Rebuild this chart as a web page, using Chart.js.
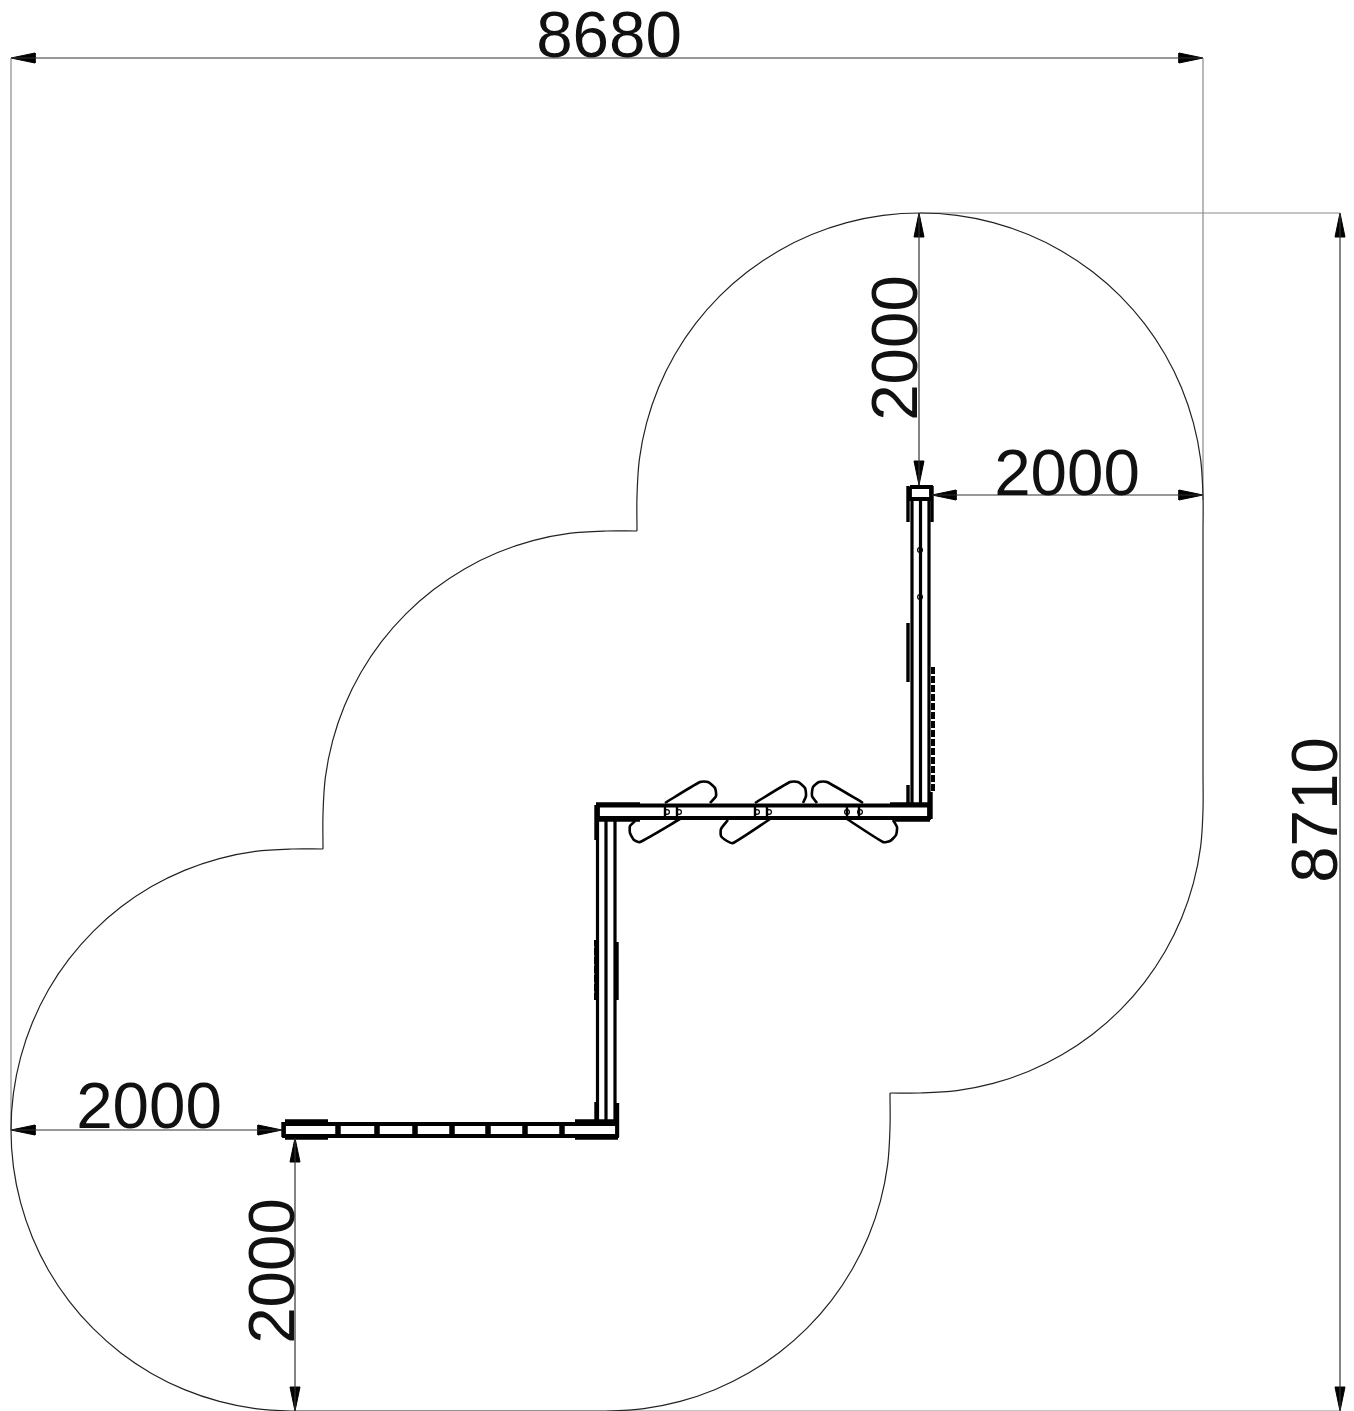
<!DOCTYPE html>
<html><head><meta charset="utf-8">
<style>html,body{margin:0;padding:0;background:#fff}canvas{display:block}</style>
<script src="https://cdn.jsdelivr.net/npm/chart.js@4"></script></head>
<body><canvas id="c" width="1354" height="1411"></canvas>
<script>
// Drawing, in drawing units
const arcUpper=[[637,531],[637,496],[639.4,459.1],[646.6,422.8],[658.5,387.7],[674.9,354.5],[695.5,323.7],[719.9,295.9],[747.7,271.5],[778.5,250.9],[811.7,234.5],[846.8,222.6],[883.1,215.4],[920,213],[956.9,215.4],[993.2,222.6],[1028.3,234.5],[1061.5,250.9],[1092.3,271.5],[1120.1,295.9],[1144.5,323.7],[1165.1,354.5],[1181.5,387.7],[1193.4,422.8],[1200.6,459.1],[1203,496],[1203,533]];
const arcLowerRight=[[1203,773],[1203,810],[1200.6,846.9],[1193.4,883.2],[1181.5,918.3],[1165.1,951.5],[1144.5,982.3],[1120.1,1010.1],[1092.3,1034.5],[1061.5,1055.1],[1028.3,1071.5],[993.2,1083.4],[956.9,1090.6],[920,1093],[890,1093]];
const arcBottom=[[890,1093],[890,1128],[887.6,1164.9],[880.4,1201.2],[868.5,1236.3],[852.1,1269.5],[831.5,1300.3],[807.1,1328.1],[779.3,1352.5],[748.5,1373.1],[715.3,1389.5],[680.2,1401.4],[643.9,1408.6],[607,1411],[570,1411]];
const arcLeft=[[329,1411],[292,1411],[255.3,1408.6],[219.3,1401.4],[184.5,1389.6],[151.5,1373.4],[120.9,1352.9],[93.3,1328.7],[69.1,1301.1],[48.6,1270.5],[32.4,1237.5],[20.6,1202.7],[13.4,1166.7],[11,1130],[13.4,1093.3],[20.6,1057.3],[32.4,1022.5],[48.6,989.5],[69.1,958.9],[93.3,931.3],[120.9,907.1],[151.5,886.6],[184.5,870.4],[219.3,858.6],[255.3,851.4],[292,849],[323,849]];
const arcMiddle=[[323,849],[323,814],[325.4,777.1],[332.6,740.8],[344.5,705.7],[360.9,672.5],[381.5,641.7],[405.9,613.9],[433.7,589.5],[464.5,568.9],[497.7,552.5],[532.8,540.6],[569.1,533.4],[606,531],[637,531]];
const outlineStraights=[[[1203,533],[1203,773]],[[570,1411],[329,1411]]];
const dimensionLines=[
 [[11,58],[1203,58]],[[1340,213],[1340,1411]],[[919,213],[919,485]],
 [[932,495],[1203,495]],[[11,1130],[282,1130]],[[295,1138],[295,1411]]];
const extensionLines=[[[11,58],[11,1130]],[[1203,58],[1203,500]],[[920,213],[1340,213]],[[607,1411],[1340,1411]]];
const arrowHeads=[
 [[11,58],[35,53],[35,63]],[[1203,58],[1179,53],[1179,63]],
 [[1340,213],[1335,237],[1345,237]],[[1340,1411],[1335,1387],[1345,1387]],
 [[919,213],[914,237],[924,237]],[[919,485],[914,461],[924,461]],
 [[932,495],[956,490],[956,500]],[[1203,495],[1179,490],[1179,500]],
 [[11,1130],[35,1125],[35,1135]],[[282,1130],[258,1125],[258,1135]],
 [[295,1138],[290,1162],[300,1162]],[[295,1411],[290,1387],[300,1387]]];
const frames=[
 [[910,487],[931,487],[931,499],[910,499],[910,487]],
 [[598,805.5],[929,805.5],[929,818],[598,818],[598,805.5]],
 [[284,1124],[617,1124],[617,1136],[284,1136],[284,1124]]];
const posts=[
 [[912,499],[912,805]],[[920.5,499],[920.5,805]],[[929,499],[929,805]],
 [[597.5,818],[597.5,1124]],[[606,818],[606,1124]],[[615,818],[615,1124]]];
const brackets=[
 [[665,805],[665,818]],[[677,805],[677,818]],[[755,805],[755,818]],[[767,805],[767,818]],
 [[847,805],[847,818]],[[859,805],[859,818]]];
const heavyAccents=[
 [[908,486],[908,522]],[[932,486],[932,522]],[[908,623],[908,682]],[[908,785],[908,805]],
 [[931,792],[931,819]],[[596,805],[596,840]],[[596,940],[596,1000]],[[617,942],[617,1000]],
 [[596,1102],[596,1124]],[[617.5,1103],[617.5,1137]],[[596,804],[640,804]],[[890,804],[930,804]],
 [[596,820],[640,820]],[[895,820],[930,820]],[[285,1121],[328,1121]],[[285,1138],[328,1138]],
 [[575,1121],[618,1121]],[[575,1138],[618,1138]],[[283,1122],[283,1137]]];
const roughAccents=[[[933,667],[933,792]],[[596,1000],[596,940]]];
const beamStuds=[338,377,415,452,488,525,562];
const seats=[
 [[665,803],[700,782],[708,782],[715,788],[716,796],[710,803]],
 [[680,819],[640,842],[634,840],[630,833],[630,826],[635,821]],
 [[755,803],[790,782],[798,782],[805,788],[806,796],[803,803]],
 [[770,819],[733,843],[727,841],[721,836],[721,829],[728,820]],
 [[863,803],[827,782],[819,782],[813,787],[812,796],[817,803]],
 [[847,819],[883,842],[890,841],[896,835],[897,827],[893,820]]];
const bolts=[[667,812],[679,812],[757,812],[769,812],[847,812],[860,812],[920,550],[920,597]];
const dimensionLabels=[
 {text:'8680',x:609,y:39,rot:0},{text:'8710',x:1319,y:810,rot:-90},
 {text:'2000',x:899,y:348,rot:-90},{text:'2000',x:1067,y:477,rot:0},
 {text:'2000',x:149,y:1110,rot:0},{text:'2000',x:276,y:1271,rot:-90}];

const pts=a=>a.map(([x,y])=>({x,y}));
const ds=[];
const add=(a,o)=>ds.push(Object.assign({data:pts(a),showLine:true,pointRadius:0,borderColor:'#111',borderWidth:1.2,tension:0},o));
[arcUpper,arcLowerRight,arcBottom,arcLeft,arcMiddle].forEach(a=>add(a,{tension:.34,borderColor:'#222',borderWidth:1.2}));
outlineStraights.forEach(a=>add(a,{borderColor:'#222',borderWidth:1.2}));
extensionLines.forEach(a=>add(a,{borderColor:'#8a8a8a',borderWidth:1.2}));
dimensionLines.forEach(a=>add(a,{borderColor:'#333',borderWidth:1.2}));
arrowHeads.forEach(a=>add(a.concat([a[0]]),{borderColor:'#000',borderWidth:1,backgroundColor:'#000',fill:'shape'}));
posts.forEach(a=>add(a,{borderColor:'#000',borderWidth:3.2}));
frames.forEach(a=>add(a,{borderColor:'#000',borderWidth:3.8}));
brackets.forEach(a=>add(a,{borderColor:'#000',borderWidth:2.4}));
heavyAccents.forEach(a=>add(a,{borderColor:'#000',borderWidth:3.4}));
roughAccents.forEach(a=>add(a,{borderColor:'#000',borderWidth:4,borderDash:[7,2]}));
beamStuds.forEach(x=>add([[x,1123],[x,1137]],{borderColor:'#000',borderWidth:5.5}));
seats.forEach(a=>add(a,{borderColor:'#000',borderWidth:2.6,tension:.2}));
ds.push({data:pts(bolts),showLine:false,pointRadius:2.4,pointBackgroundColor:'#fff',pointBorderColor:'#000',pointBorderWidth:1.2});

const labelPlugin={id:'labels',afterDatasetsDraw(ch){
 const {ctx,scales:{x,y}}=ch;
 dimensionLabels.forEach(l=>{ctx.save();
  ctx.translate(x.getPixelForValue(l.x),y.getPixelForValue(l.y));
  ctx.rotate(l.rot*Math.PI/180);
  ctx.font='65.5px "Liberation Sans"';ctx.fillStyle='#111';ctx.textAlign='center';ctx.textBaseline='middle';
  ctx.fillText(l.text,0,0);ctx.restore();});
}};
new Chart(document.getElementById('c'),{type:'scatter',data:{datasets:ds},plugins:[labelPlugin],options:{
 responsive:false,animation:false,layout:{padding:0,autoPadding:false},
 plugins:{legend:{display:false},tooltip:{enabled:false}},events:[],
 datasets:{scatter:{clip:false}},
 scales:{x:{type:'linear',min:0,max:1354,display:false},y:{type:'linear',min:0,max:1411,reverse:true,display:false}}
}});
</script></body></html>
